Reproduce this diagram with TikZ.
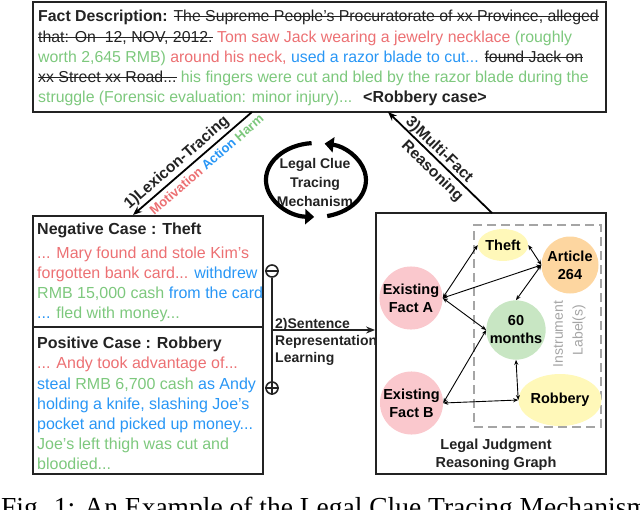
\documentclass[tikz,border=0pt]{standalone}
\usepackage{fontspec}
\setmainfont{Liberation Sans}
\newfontfamily\capfont{Liberation Serif}
\usetikzlibrary{arrows.meta,shapes.geometric}
\definecolor{cred}{RGB}{236,112,115}
\definecolor{cgreen}{RGB}{125,200,125}
\definecolor{cblue}{RGB}{40,150,245}
\definecolor{dark}{RGB}{35,35,35}
\definecolor{fpink}{RGB}{250,200,205}
\definecolor{fyellow}{RGB}{255,248,185}
\definecolor{forange}{RGB}{253,214,160}
\definecolor{fgreen}{RGB}{200,230,195}
\definecolor{lgray}{RGB}{165,165,165}
\newcommand{\cRed}[1]{\textcolor{cred}{#1}}
\newcommand{\cGrn}[1]{\textcolor{cgreen}{#1}}
\newcommand{\cBlu}[1]{\textcolor{cblue}{#1}}
\newcommand{\stk}[1]{\setbox0\hbox{#1}\rlap{\raisebox{0.27em}{\rule{\wd0}{1.2pt}}}\box0\relax}
\begin{document}
\begin{tikzpicture}[x=1pt,y=-1pt,
  box/.style={draw=dark, line width=1.8pt, inner sep=0pt},
  dbox/.style={draw=lgray, line width=2pt, dash pattern=on 9pt off 5pt, inner sep=0pt},
  txt/.style={inner sep=0pt, anchor=base west, font=\fontsize{16}{20}\selectfont, text=dark},
  ftxt/.style={txt, font=\fontsize{15.85}{20}\selectfont},
  btxt/.style={txt, font=\bfseries\fontsize{16}{20}\selectfont},
  lbl/.style={inner sep=0pt, anchor=base west, font=\bfseries\fontsize{14}{17}\selectfont, text=dark},
  gnode/.style={circle, fill=#1, inner sep=0pt, align=center, font=\bfseries\fontsize{14.5}{18}\selectfont, text=black},
  gell/.style={ellipse, fill=#1, inner sep=0pt, align=center, font=\bfseries\fontsize{14.5}{18}\selectfont, text=black},
  gedge/.style={{Stealth[length=5pt,width=4pt]}-{Stealth[length=5pt,width=4pt]}, line width=0.9pt, black},
  bigarrow/.style={-{Stealth[length=9pt,width=7pt]}, line width=1.8pt, black},
  cycarrow/.style={-{Triangle[length=9pt,width=15pt]}, line width=4.2pt, black},
  sign/.style={circle, draw=dark, line width=1.6pt, minimum size=12pt, inner sep=0pt}
]
\useasboundingbox (0,0) rectangle (640,509);

% boxes
\node[box, minimum width=573, minimum height=110] (fact) at (319.5,57) {};
\node[box, minimum width=230, minimum height=111] (neg) at (148,271.5) {};
\node[box, minimum width=230, minimum height=147] (pos) at (148,400.5) {};
\node[box, minimum width=230, minimum height=261] (graph) at (491,343.5) {};
\node[dbox, minimum width=127, minimum height=202] (inst) at (537.5,326) {};

% fact description
\node[ftxt] (f1) at (38,21.5) {\textbf{Fact Description:} \stk{The Supreme People's Procuratorate of xx Province, alleged}};
\node[ftxt] (f2) at (38,42) {\stk{that: On\ \ 12, NOV, 2012.} \cRed{Tom saw Jack wearing a jewelry necklace} \cGrn{(roughly}};
\node[ftxt] (f3) at (38,62) {\cGrn{worth 2,645 RMB)} \cRed{around his neck,} \cBlu{used a razor blade to cut...} \stk{found Jack on}};
\node[ftxt] (f4) at (38,82) {\stk{xx Street xx Road...} \cGrn{his fingers were cut and bled by the razor blade during the}};
\node[ftxt] (f5) at (38,102) {\cGrn{struggle (Forensic evaluation: minor injury)...}};
\node[btxt] (rc) at (363,102) {<Robbery case>};

% negative case
\node[btxt] (negT) at (37,234.5) {Negative Case : Theft};
\node[txt] (n1) at (37,258) {\cRed{... Mary found and stole Kim's}};
\node[txt] (n2) at (37,278) {\cRed{forgotten bank card...} \cBlu{withdrew}};
\node[txt] (n3) at (37,298) {\cGrn{RMB 15,000 cash} \cBlu{from the card}};
\node[txt] (n4) at (37,318) {\cBlu{...} \cGrn{fled with money...}};

% positive case
\node[btxt] (posT) at (37,348.5) {Positive Case : Robbery};
\node[txt] (p1) at (37,368.5) {\cRed{... Andy took advantage of...}};
\node[txt] (p2) at (37,389.5) {\cBlu{steal} \cGrn{RMB 6,700 cash} \cBlu{as Andy}};
\node[txt] (p3) at (37,409.5) {\cBlu{holding a knife, slashing Joe's}};
\node[txt] (p4) at (37,429.5) {\cBlu{pocket and picked up money...}};
\node[txt] (p5) at (37,449.5) {\cGrn{Joe's left thigh was cut and}};
\node[txt] (p6) at (37,469.5) {\cGrn{bloodied...}};

% sentence representation learning
\node[sign] (minus) at (272,271) {};
\draw[line width=1.6pt, dark] (minus.west) -- (minus.east);
\node[sign] (plus) at (272,388) {};
\draw[line width=1.6pt, dark] (plus.west) -- (plus.east) (plus.north) -- (plus.south);
\draw[line width=1.8pt, dark] (minus.south) -- (plus.north);
\coordinate (srS) at (272,330);
\coordinate (srE) at (graph.west |- srS);
\draw[bigarrow, dark] (srS) -- (srE);
\node[lbl] (sr1) at (275,328) {2)Sentence};
\node[lbl] (sr2) at (275,345) {Representation};
\node[lbl] (sr3) at (275,362) {Learning};

% lexicon tracing
\coordinate (lexS) at (252,112);
\coordinate (lexE) at (133,215);
\draw[bigarrow] (lexS) -- (lexE);
\node[rotate=40.9, inner sep=0pt, font=\bfseries\fontsize{15.5}{18}\selectfont, text=dark] (lexL) at (177,163) {1)Lexicon-Tracing};
\node[rotate=40.9, inner sep=0pt, font=\bfseries\fontsize{13}{16}\selectfont] (mah) at (206.5,164.5) {\cRed{Motivation} \cBlu{Action} \cGrn{Harm}};

% multi-fact reasoning
\coordinate (mfS) at (492,213);
\coordinate (mfE) at (388,112);
\draw[bigarrow] (mfS) -- (mfE);
\node[rotate=-44.2, inner sep=0pt, font=\bfseries\fontsize{15.5}{18}\selectfont, text=dark] (mfL) at (439,150) {3)Multi-Fact};
\node[rotate=-44.2, inner sep=0pt, font=\bfseries\fontsize{15.5}{18}\selectfont, text=dark] (mfL2) at (432,171.5) {Reasoning};

% mechanism cycle
\node[align=center, inner sep=0pt, font=\bfseries\fontsize{14}{19}\selectfont, text=dark] (mech) at (315,182) {Legal Clue\\Tracing\\Mechanism};
\draw[cycarrow] (311.6,143.1) arc[start angle=265, end angle=92, x radius=50, y radius=37];
\draw[cycarrow] (327.2,216.1) arc[start angle=77, end angle=-80, x radius=50, y radius=37];

% graph nodes
\node[gnode=fpink, minimum size=62pt] (fa) at (411,298) {Existing\\Fact A};
\node[gnode=fpink, minimum size=62pt] (fb) at (411.5,403) {Existing\\Fact B};
\node[gell=fyellow, minimum width=48pt, minimum height=32pt] (theft) at (503,245) {Theft};
\node[gnode=forange, minimum size=57pt] (art) at (570,265) {Article\\264};
\node[gnode=fgreen, minimum size=58pt] (mon) at (516,330) {60\\months};
\node[gell=fyellow, minimum width=76pt, minimum height=52pt] (rob) at (560,400) {Robbery};

\draw[gedge] (fa.east) -- (theft.west);
\draw[gedge] (fa.east) -- (art.west);
\draw[gedge] (fa.east) -- (mon.west);
\draw[gedge] (theft.east) -- (art.west);
\draw[gedge] (art.west) -- (mon.north);
\draw[gedge] (fb.east) -- (mon.west);
\draw[gedge] (fb.east) -- (rob.west);
\draw[gedge] (mon.south) -- (rob.west);

\node[rotate=90, inner sep=0pt, font=\fontsize{14}{17}\selectfont, text=lgray] (ins1) at (558,334) {Instrument};
\node[rotate=90, inner sep=0pt, font=\fontsize{14}{17}\selectfont, text=lgray] (ins2) at (579,330) {Label(s)};

\node[inner sep=0pt, font=\bfseries\fontsize{14.5}{18}\selectfont, text=dark] (gt1) at (496,446) {Legal Judgment};
\node[inner sep=0pt, font=\bfseries\fontsize{14.5}{18}\selectfont, text=dark] (gt2) at (496,464) {Reasoning Graph};

% caption (cut by the page edge)
\node[inner sep=0pt, anchor=base west, font=\capfont\fontsize{27.5}{30}\selectfont, text=black] (cap) at (1,516) {Fig. 1: An Example of the Legal Clue Tracing Mechanism};
\end{tikzpicture}
\end{document}
